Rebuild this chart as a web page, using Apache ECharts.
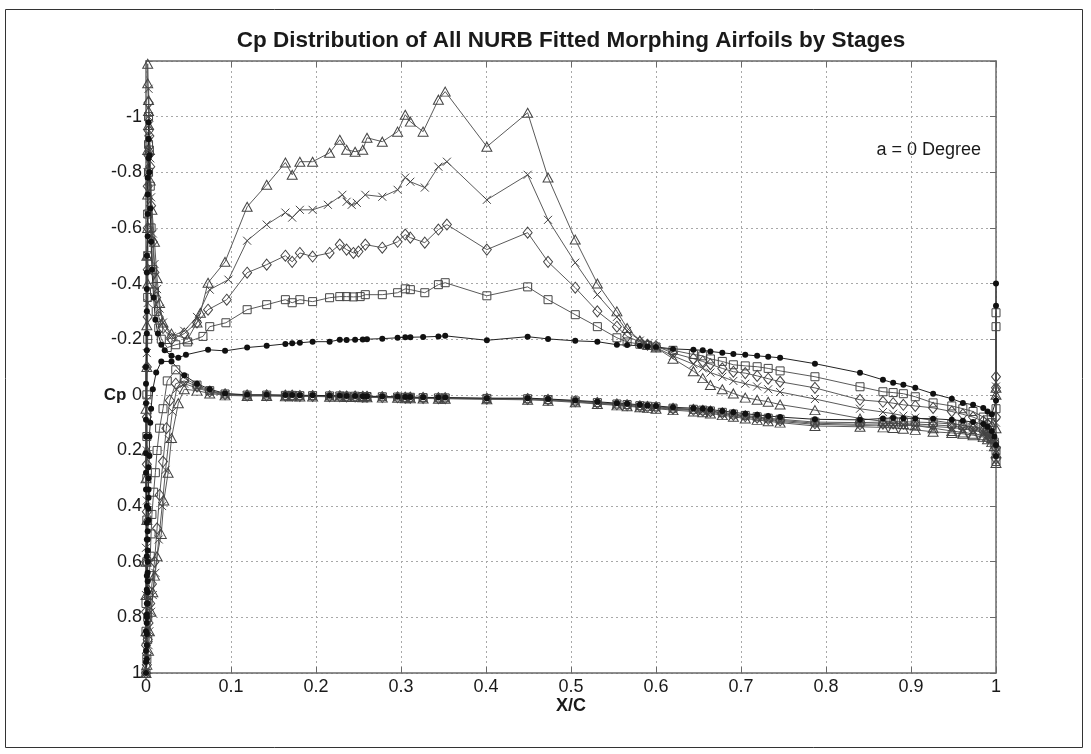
<!DOCTYPE html>
<html><head><meta charset="utf-8">
<script src="https://cdn.jsdelivr.net/npm/echarts@6/dist/echarts.min.js"></script>
<style>html,body{margin:0;padding:0;background:#fff}#c{width:1091px;height:754px}</style>
</head><body><div id="c"></div>
<script>
const titleText = 'Cp Distribution of All NURB Fitted Morphing Airfoils by Stages';
const xName = 'X/C';
const yName = 'Cp';
const noteText = 'a = 0 Degree';
const xMin = 0, xMax = 1, xStep = 0.1;
const yMin = -1.2, yMax = 1, yStep = 0.2;

// Baseline airfoil (filled circles): lower surface TE -> LE, then upper surface LE -> TE
const circlesLower = [[1.0,0.22],[1.0,0.18],[0.998,0.15],[0.995,0.13],[0.99,0.115],[0.985,0.105],[0.973,0.098],[0.961,0.093],[0.948,0.09],[0.926,0.086],[0.905,0.085],[0.891,0.084],[0.879,0.083],[0.867,0.085],[0.84,0.09],[0.787,0.088],[0.746,0.08],[0.732,0.076],[0.719,0.072],[0.705,0.068],[0.691,0.063],[0.678,0.058],[0.664,0.053],[0.655,0.05],[0.644,0.048],[0.62,0.045],[0.6,0.04],[0.59,0.038],[0.581,0.036],[0.566,0.032],[0.554,0.03],[0.531,0.025],[0.505,0.02],[0.473,0.015],[0.449,0.012],[0.401,0.012],[0.352,0.01],[0.344,0.01],[0.326,0.009],[0.311,0.008],[0.305,0.008],[0.296,0.007],[0.278,0.006],[0.26,0.005],[0.255,0.005],[0.246,0.004],[0.236,0.004],[0.228,0.003],[0.216,0.003],[0.196,0.002],[0.181,0.002],[0.172,0.001],[0.164,0.001],[0.142,0.0],[0.119,0.0],[0.093,-0.005],[0.075,-0.02],[0.06,-0.04],[0.045,-0.07],[0.03,-0.12],[0.018,-0.12],[0.012,-0.08],[0.008,-0.02],[0.006,0.05],[0.005,0.1],[0.004,0.15],[0.004,0.22],[0.003,0.26],[0.003,0.3],[0.003,0.34],[0.003,0.37],[0.003,0.41],[0.003,0.45],[0.002,0.49],[0.002,0.52],[0.002,0.56],[0.002,0.6],[0.002,0.64],[0.002,0.67],[0.002,0.71],[0.002,0.75],[0.001,0.79],[0.001,0.82],[0.001,0.86],[0.001,0.9],[0.001,0.95],[0.0,1.0]];
const circlesUpper = [[0.0,0.96],[0.0,0.92],[0.0,0.85],[0.001,0.8],[0.001,0.75],[0.001,0.7],[0.001,0.65],[0.001,0.58],[0.001,0.52],[0.001,0.46],[0.001,0.4],[0.0,0.34],[0.0,0.28],[0.0,0.21],[0.0,0.15],[0.0,0.09],[0.0,0.03],[0.0,-0.04],[0.0,-0.1],[0.001,-0.16],[0.001,-0.22],[0.001,-0.3],[0.001,-0.38],[0.001,-0.44],[0.001,-0.5],[0.002,-0.57],[0.002,-0.65],[0.002,-0.72],[0.002,-0.78],[0.003,-0.85],[0.003,-0.92],[0.003,-0.98],[0.003,-0.92],[0.004,-0.86],[0.004,-0.8],[0.005,-0.67],[0.006,-0.55],[0.007,-0.45],[0.009,-0.35],[0.011,-0.27],[0.014,-0.22],[0.018,-0.18],[0.022,-0.16],[0.03,-0.14],[0.038,-0.133],[0.047,-0.144],[0.073,-0.162],[0.093,-0.158],[0.119,-0.17],[0.142,-0.176],[0.164,-0.183],[0.172,-0.185],[0.181,-0.187],[0.196,-0.191],[0.216,-0.191],[0.228,-0.198],[0.236,-0.197],[0.246,-0.198],[0.255,-0.199],[0.26,-0.2],[0.278,-0.202],[0.296,-0.205],[0.305,-0.207],[0.311,-0.207],[0.326,-0.208],[0.344,-0.21],[0.352,-0.212],[0.401,-0.196],[0.449,-0.209],[0.473,-0.201],[0.505,-0.194],[0.531,-0.191],[0.554,-0.18],[0.566,-0.179],[0.581,-0.176],[0.59,-0.174],[0.6,-0.172],[0.62,-0.165],[0.644,-0.162],[0.655,-0.16],[0.664,-0.156],[0.678,-0.151],[0.691,-0.147],[0.705,-0.144],[0.719,-0.14],[0.732,-0.137],[0.746,-0.133],[0.787,-0.112],[0.84,-0.079],[0.867,-0.054],[0.879,-0.043],[0.891,-0.036],[0.905,-0.025],[0.926,-0.004],[0.948,0.014],[0.961,0.029],[0.973,0.036],[0.985,0.047],[0.99,0.06],[0.995,0.07],[1.0,0.02],[1.0,-0.32],[1.0,-0.4]];

// Stage 1 (squares)
const squaresLower = [[1.0,0.24],[1.0,0.2],[0.998,0.17],[0.995,0.15],[0.99,0.13],[0.985,0.12],[0.973,0.115],[0.961,0.11],[0.948,0.105],[0.926,0.1],[0.905,0.098],[0.891,0.097],[0.879,0.097],[0.867,0.098],[0.84,0.1],[0.787,0.098],[0.746,0.088],[0.732,0.084],[0.719,0.079],[0.705,0.074],[0.691,0.069],[0.678,0.063],[0.664,0.058],[0.655,0.055],[0.644,0.052],[0.62,0.048],[0.6,0.043],[0.59,0.041],[0.581,0.039],[0.566,0.035],[0.554,0.033],[0.531,0.028],[0.505,0.022],[0.473,0.017],[0.449,0.014],[0.401,0.013],[0.352,0.011],[0.344,0.011],[0.326,0.01],[0.311,0.009],[0.305,0.009],[0.296,0.008],[0.278,0.007],[0.26,0.006],[0.255,0.006],[0.246,0.005],[0.236,0.005],[0.228,0.004],[0.216,0.004],[0.196,0.003],[0.181,0.003],[0.172,0.002],[0.164,0.002],[0.142,0.001],[0.119,0.001],[0.093,-0.003],[0.075,-0.015],[0.06,-0.035],[0.045,-0.06],[0.035,-0.09],[0.025,-0.05],[0.02,0.05],[0.016,0.12],[0.013,0.2],[0.011,0.28],[0.009,0.35],[0.007,0.43],[0.006,0.5],[0.005,0.58],[0.004,0.65],[0.003,0.72],[0.002,0.8],[0.002,0.88],[0.001,0.95],[0.0,1.0]];
const squaresUpper = [[0.0,0.85],[0.0,0.75],[0.001,0.6],[0.001,0.45],[0.001,0.3],[0.001,0.15],[0.001,0.0],[0.002,-0.2],[0.002,-0.35],[0.002,-0.5],[0.002,-0.65],[0.003,-0.8],[0.003,-0.9],[0.003,-1.0],[0.004,-0.88],[0.005,-0.75],[0.006,-0.6],[0.008,-0.45],[0.01,-0.37],[0.012,-0.3],[0.015,-0.24],[0.018,-0.2],[0.025,-0.17],[0.035,-0.18],[0.049,-0.19],[0.067,-0.21],[0.075,-0.245],[0.094,-0.259],[0.119,-0.306],[0.142,-0.324],[0.164,-0.342],[0.172,-0.331],[0.181,-0.342],[0.196,-0.335],[0.216,-0.349],[0.228,-0.353],[0.236,-0.353],[0.244,-0.352],[0.252,-0.353],[0.258,-0.36],[0.278,-0.36],[0.296,-0.367],[0.305,-0.381],[0.311,-0.378],[0.328,-0.367],[0.344,-0.396],[0.352,-0.403],[0.401,-0.356],[0.449,-0.388],[0.473,-0.342],[0.505,-0.288],[0.531,-0.245],[0.554,-0.205],[0.566,-0.19],[0.581,-0.182],[0.59,-0.178],[0.6,-0.172],[0.62,-0.16],[0.644,-0.145],[0.655,-0.14],[0.664,-0.129],[0.678,-0.12],[0.691,-0.108],[0.705,-0.104],[0.719,-0.101],[0.732,-0.095],[0.746,-0.086],[0.787,-0.065],[0.84,-0.029],[0.867,-0.011],[0.879,-0.008],[0.891,-0.004],[0.905,0.007],[0.926,0.029],[0.948,0.04],[0.961,0.05],[0.973,0.06],[0.985,0.08],[0.99,0.09],[0.995,0.1],[1.0,0.05],[1.0,-0.245],[1.0,-0.295]];

// Stage 2 (diamonds)
const diamondsLower = [[1.0,0.23],[1.0,0.19],[0.998,0.17],[0.995,0.155],[0.99,0.14],[0.985,0.13],[0.973,0.122],[0.961,0.117],[0.948,0.112],[0.926,0.108],[0.905,0.105],[0.891,0.104],[0.879,0.103],[0.867,0.104],[0.84,0.106],[0.787,0.102],[0.746,0.092],[0.732,0.087],[0.719,0.082],[0.705,0.077],[0.691,0.072],[0.678,0.066],[0.664,0.06],[0.655,0.057],[0.644,0.054],[0.62,0.05],[0.6,0.045],[0.59,0.043],[0.581,0.041],[0.566,0.037],[0.554,0.034],[0.531,0.029],[0.505,0.023],[0.473,0.018],[0.449,0.015],[0.401,0.014],[0.352,0.012],[0.344,0.012],[0.326,0.011],[0.311,0.01],[0.305,0.01],[0.296,0.009],[0.278,0.008],[0.26,0.007],[0.255,0.007],[0.246,0.006],[0.236,0.006],[0.228,0.005],[0.216,0.005],[0.196,0.004],[0.181,0.004],[0.172,0.003],[0.164,0.003],[0.142,0.002],[0.119,0.002],[0.093,-0.002],[0.075,-0.012],[0.06,-0.03],[0.045,-0.05],[0.035,-0.04],[0.028,0.02],[0.024,0.12],[0.02,0.24],[0.016,0.36],[0.013,0.48],[0.01,0.6],[0.007,0.68],[0.005,0.75],[0.003,0.82],[0.002,0.88],[0.001,0.93],[0.001,0.97],[0.0,1.0]];
const diamondsUpper = [[0.0,0.9],[0.0,0.78],[0.0,0.6],[0.001,0.42],[0.001,0.25],[0.001,0.08],[0.001,-0.1],[0.002,-0.28],[0.002,-0.45],[0.002,-0.6],[0.002,-0.75],[0.003,-0.86],[0.003,-0.95],[0.003,-1.05],[0.004,-0.93],[0.005,-0.82],[0.006,-0.68],[0.008,-0.55],[0.01,-0.44],[0.012,-0.35],[0.015,-0.28],[0.02,-0.24],[0.03,-0.2],[0.045,-0.22],[0.06,-0.26],[0.073,-0.306],[0.095,-0.342],[0.119,-0.439],[0.142,-0.468],[0.164,-0.5],[0.172,-0.478],[0.181,-0.51],[0.196,-0.497],[0.216,-0.51],[0.228,-0.54],[0.236,-0.522],[0.244,-0.51],[0.25,-0.515],[0.258,-0.54],[0.278,-0.529],[0.296,-0.55],[0.305,-0.576],[0.311,-0.565],[0.328,-0.547],[0.344,-0.594],[0.354,-0.612],[0.401,-0.522],[0.449,-0.583],[0.473,-0.478],[0.505,-0.385],[0.531,-0.3],[0.554,-0.245],[0.566,-0.21],[0.581,-0.19],[0.59,-0.18],[0.6,-0.175],[0.62,-0.15],[0.644,-0.13],[0.655,-0.12],[0.664,-0.11],[0.678,-0.095],[0.691,-0.083],[0.705,-0.078],[0.719,-0.068],[0.732,-0.058],[0.746,-0.047],[0.787,-0.025],[0.84,0.018],[0.867,0.025],[0.879,0.03],[0.891,0.036],[0.905,0.04],[0.926,0.047],[0.948,0.06],[0.961,0.07],[0.973,0.08],[0.985,0.095],[0.99,0.105],[0.995,0.115],[1.0,0.08],[1.0,-0.025],[1.0,-0.065]];

// Stage 3 (crosses)
const crossesLower = [[1.0,0.235],[1.0,0.2],[0.998,0.175],[0.995,0.16],[0.99,0.145],[0.985,0.135],[0.973,0.127],[0.961,0.122],[0.948,0.118],[0.926,0.114],[0.905,0.111],[0.891,0.11],[0.879,0.109],[0.867,0.109],[0.84,0.11],[0.787,0.106],[0.746,0.096],[0.732,0.09],[0.719,0.085],[0.705,0.08],[0.691,0.075],[0.678,0.069],[0.664,0.063],[0.655,0.059],[0.644,0.056],[0.62,0.052],[0.6,0.047],[0.59,0.045],[0.581,0.043],[0.566,0.039],[0.554,0.036],[0.531,0.031],[0.505,0.025],[0.473,0.019],[0.449,0.016],[0.401,0.015],[0.352,0.013],[0.344,0.013],[0.326,0.012],[0.311,0.011],[0.305,0.011],[0.296,0.01],[0.278,0.009],[0.26,0.008],[0.255,0.008],[0.246,0.007],[0.236,0.007],[0.228,0.006],[0.216,0.006],[0.196,0.005],[0.181,0.005],[0.172,0.004],[0.164,0.004],[0.142,0.003],[0.119,0.003],[0.093,0.0],[0.075,-0.01],[0.06,-0.025],[0.045,-0.04],[0.036,-0.02],[0.031,0.06],[0.027,0.16],[0.023,0.27],[0.019,0.4],[0.015,0.52],[0.011,0.64],[0.008,0.72],[0.006,0.78],[0.004,0.85],[0.003,0.9],[0.001,0.96],[0.0,1.0]];
const crossesUpper = [[0.0,0.88],[0.0,0.72],[0.0,0.55],[0.001,0.38],[0.001,0.2],[0.001,0.02],[0.001,-0.15],[0.002,-0.33],[0.002,-0.5],[0.002,-0.65],[0.002,-0.8],[0.003,-0.92],[0.003,-1.0],[0.003,-1.1],[0.004,-0.97],[0.005,-0.85],[0.006,-0.71],[0.008,-0.58],[0.01,-0.47],[0.013,-0.38],[0.016,-0.31],[0.02,-0.26],[0.03,-0.21],[0.045,-0.23],[0.06,-0.28],[0.075,-0.378],[0.097,-0.414],[0.119,-0.554],[0.142,-0.612],[0.164,-0.655],[0.172,-0.637],[0.181,-0.665],[0.196,-0.665],[0.214,-0.683],[0.231,-0.719],[0.236,-0.694],[0.242,-0.683],[0.248,-0.69],[0.258,-0.719],[0.278,-0.712],[0.296,-0.737],[0.305,-0.781],[0.311,-0.766],[0.328,-0.745],[0.344,-0.82],[0.354,-0.838],[0.401,-0.701],[0.449,-0.791],[0.473,-0.629],[0.505,-0.475],[0.531,-0.36],[0.554,-0.28],[0.566,-0.23],[0.581,-0.195],[0.59,-0.18],[0.6,-0.17],[0.62,-0.14],[0.644,-0.11],[0.655,-0.095],[0.664,-0.08],[0.678,-0.065],[0.691,-0.05],[0.705,-0.04],[0.719,-0.03],[0.732,-0.02],[0.746,-0.01],[0.787,0.015],[0.84,0.05],[0.867,0.062],[0.879,0.068],[0.891,0.075],[0.905,0.082],[0.926,0.092],[0.948,0.102],[0.961,0.11],[0.973,0.118],[0.985,0.125],[0.99,0.13],[0.995,0.135],[1.0,0.1],[1.0,0.0],[1.0,-0.03]];

// Stage 4 (triangles)
const trianglesLower = [[1.0,0.245],[1.0,0.21],[0.998,0.185],[0.995,0.17],[0.99,0.16],[0.985,0.152],[0.973,0.145],[0.961,0.14],[0.948,0.137],[0.926,0.133],[0.905,0.126],[0.891,0.122],[0.879,0.119],[0.867,0.117],[0.84,0.115],[0.787,0.112],[0.746,0.1],[0.732,0.095],[0.719,0.09],[0.705,0.085],[0.691,0.079],[0.678,0.073],[0.664,0.067],[0.655,0.063],[0.644,0.06],[0.62,0.055],[0.6,0.05],[0.59,0.047],[0.581,0.045],[0.566,0.041],[0.554,0.038],[0.531,0.033],[0.505,0.027],[0.473,0.021],[0.449,0.018],[0.401,0.016],[0.352,0.014],[0.344,0.014],[0.326,0.013],[0.311,0.012],[0.305,0.012],[0.296,0.011],[0.278,0.01],[0.26,0.009],[0.255,0.009],[0.246,0.008],[0.236,0.008],[0.228,0.007],[0.216,0.007],[0.196,0.006],[0.181,0.006],[0.172,0.005],[0.164,0.005],[0.142,0.004],[0.119,0.004],[0.093,0.002],[0.075,-0.005],[0.06,-0.015],[0.045,-0.02],[0.038,0.03],[0.03,0.155],[0.026,0.28],[0.021,0.38],[0.018,0.5],[0.013,0.58],[0.01,0.65],[0.008,0.71],[0.006,0.78],[0.004,0.85],[0.003,0.92],[0.001,0.97],[0.0,1.0]];
const trianglesUpper = [[0.0,0.85],[0.0,0.72],[0.0,0.6],[0.001,0.45],[0.0,0.3],[0.001,0.2],[0.0,0.05],[0.001,-0.1],[0.001,-0.25],[0.002,-0.4],[0.001,-0.5],[0.002,-0.6],[0.002,-0.72],[0.002,-0.88],[0.003,-0.97],[0.003,-1.06],[0.002,-1.12],[0.002,-1.19],[0.003,-1.02],[0.004,-0.88],[0.005,-0.77],[0.007,-0.665],[0.01,-0.55],[0.013,-0.42],[0.016,-0.33],[0.02,-0.26],[0.03,-0.22],[0.049,-0.2],[0.06,-0.26],[0.064,-0.295],[0.073,-0.403],[0.093,-0.478],[0.119,-0.676],[0.142,-0.755],[0.164,-0.835],[0.172,-0.791],[0.181,-0.838],[0.196,-0.838],[0.216,-0.87],[0.228,-0.917],[0.236,-0.881],[0.246,-0.874],[0.255,-0.881],[0.26,-0.924],[0.278,-0.91],[0.296,-0.946],[0.305,-1.007],[0.311,-0.982],[0.326,-0.946],[0.344,-1.061],[0.352,-1.09],[0.401,-0.892],[0.449,-1.014],[0.473,-0.781],[0.505,-0.558],[0.531,-0.4],[0.554,-0.3],[0.566,-0.24],[0.581,-0.195],[0.59,-0.18],[0.6,-0.17],[0.62,-0.13],[0.644,-0.085],[0.655,-0.06],[0.664,-0.035],[0.678,-0.02],[0.691,-0.005],[0.705,0.01],[0.719,0.018],[0.732,0.025],[0.746,0.035],[0.787,0.055],[0.84,0.085],[0.867,0.095],[0.879,0.1],[0.891,0.105],[0.905,0.11],[0.926,0.12],[0.948,0.13],[0.961,0.135],[0.973,0.14],[0.985,0.145],[0.99,0.15],[0.995,0.155],[1.0,0.12],[1.0,0.0],[1.0,-0.025]];

const FONT = '"Liberation Sans", Arial, sans-serif';
const lineGray = '#5a5a5a';
const markGray = '#444';
const hollow = {color: 'rgba(255,255,255,0)', borderColor: markGray, borderWidth: 1};

function mk(name, lower, upper, symbol, size, itemStyle, lineColor) {
  return {
    name, type: 'line', data: lower.concat(upper), symbol, symbolSize: size,
    showAllSymbol: true, clip: false, animation: false,
    lineStyle: {color: lineColor, width: 1}, itemStyle,
    emphasis: {disabled: true}
  };
}

const crossPath = 'path://M0,0L10,10M10,0L0,10';

const series = [
  mk('Stage 4', trianglesLower, trianglesUpper, 'triangle', [10, 9], hollow, lineGray),
  mk('Stage 3', crossesLower, crossesUpper, crossPath, 8, {color: 'rgba(0,0,0,0)', borderColor: markGray, borderWidth: 1}, lineGray),
  mk('Stage 2', diamondsLower, diamondsUpper, 'diamond', [9, 11], hollow, lineGray),
  mk('Stage 1', squaresLower, squaresUpper, 'rect', 8, hollow, lineGray),
  mk('Baseline', circlesLower, circlesUpper, 'circle', 6, {color: '#111'}, '#222')
];

const axisCol = '#6a6a6a';
const xFmt = v => (Math.abs(v) < 1e-9 ? '0' : Math.abs(v - 1) < 1e-9 ? '1' : (Math.round(v * 10) / 10).toFixed(1));
const yFmt = v => (Math.abs(v - yMin) < 1e-9 ? '' : String(Math.round(v * 10) / 10));

const chart = echarts.init(document.getElementById('c'), null, {renderer: 'canvas'});
chart.setOption({
  animation: false,
  backgroundColor: '#fff',
  grid: {left: 146, right: 95, top: 61, bottom: 81, containLabel: false},
  xAxis: [
    {type: 'value', min: xMin, max: xMax, interval: xStep, position: 'bottom',
     axisLine: {show: true, onZero: false, lineStyle: {color: axisCol, width: 1.5}},
     axisTick: {show: true, inside: true, length: 6, lineStyle: {color: axisCol}},
     axisLabel: {color: '#1a1a1a', fontSize: 18, fontFamily: FONT, margin: 5, formatter: xFmt},
     splitLine: {show: true, lineStyle: {color: '#a8a8a8', type: [2, 3], width: 1}}},
    {type: 'value', min: xMin, max: xMax, interval: xStep, position: 'top',
     axisLine: {show: true, onZero: false, lineStyle: {color: axisCol, width: 1.5}},
     axisTick: {show: true, inside: true, length: 6, lineStyle: {color: axisCol}},
     axisLabel: {show: false}, splitLine: {show: false}}
  ],
  yAxis: [
    {type: 'value', inverse: true, min: yMin, max: yMax, interval: yStep, position: 'left',
     axisLine: {show: true, onZero: false, lineStyle: {color: axisCol, width: 1.5}},
     axisTick: {show: true, inside: true, length: 6, lineStyle: {color: axisCol}},
     axisLabel: {color: '#1a1a1a', fontSize: 18, fontFamily: FONT, margin: 4, formatter: yFmt},
     splitLine: {show: true, lineStyle: {color: '#a8a8a8', type: [2, 3], width: 1}}},
    {type: 'value', inverse: true, min: yMin, max: yMax, interval: yStep, position: 'right',
     axisLine: {show: true, onZero: false, lineStyle: {color: axisCol, width: 1.5}},
     axisTick: {show: true, inside: true, length: 6, lineStyle: {color: axisCol}},
     axisLabel: {show: false}, splitLine: {show: false}}
  ],
  graphic: [
    {type: 'rect', shape: {x: 5.5, y: 9.5, width: 1077, height: 738}, style: {fill: 'none', stroke: '#333', lineWidth: 1}, silent: true},
    {type: 'text', x: 571, y: 41, style: {text: titleText, fill: '#1a1a1a', font: 'bold 22.5px ' + FONT, textAlign: 'center', textVerticalAlign: 'middle'}},
    {type: 'text', x: 115, y: 395, style: {text: yName, fill: '#1a1a1a', font: 'bold 17px ' + FONT, textAlign: 'center', textVerticalAlign: 'middle'}},
    {type: 'text', x: 571, y: 706, style: {text: xName, fill: '#1a1a1a', font: 'bold 18px ' + FONT, textAlign: 'center', textVerticalAlign: 'middle'}},
    {type: 'text', x: 981, y: 150, style: {text: noteText, fill: '#1a1a1a', font: '18px ' + FONT, textAlign: 'right', textVerticalAlign: 'middle'}}
  ],
  series
});
</script>
</body></html>
